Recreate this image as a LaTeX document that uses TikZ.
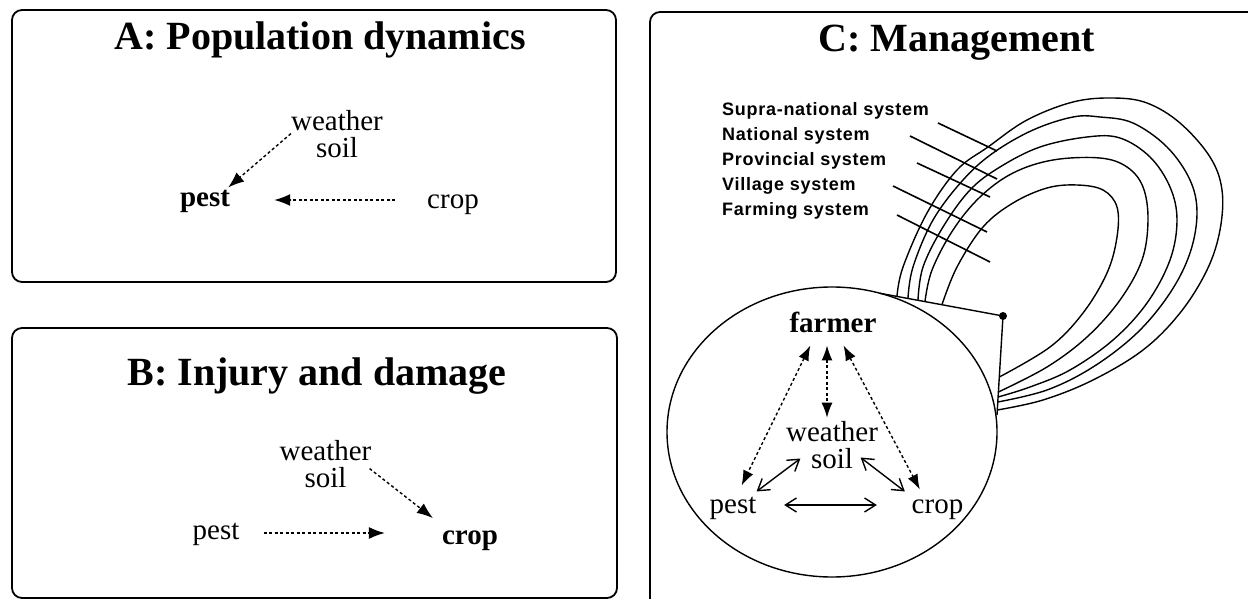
\documentclass[tikz,border=0pt]{standalone}
\usepackage{fontspec}
\setmainfont{Liberation Serif}
\newfontfamily\labfont[LetterSpace=4]{Liberation Sans}
\usetikzlibrary{arrows.meta}
\begin{document}
\begin{tikzpicture}[x=1pt,y=-1pt,
  panel/.style={draw, line width=1.8pt, rounded corners=10pt},
  ttl/.style={font=\fontsize{40}{48}\selectfont\bfseries, inner sep=0pt, anchor=base},
  rtxt/.style={font=\fontsize{29}{27}\selectfont, inner sep=0pt, anchor=base},
  btxt/.style={font=\fontsize{29}{27}\selectfont\bfseries, inner sep=0pt, anchor=base},
  wstxt/.style={font=\fontsize{29}{27}\selectfont, inner sep=0pt, align=center, anchor=center},
  syslab/.style={font=\labfont\bfseries\fontsize{18}{20}\selectfont, inner sep=0pt, anchor=base west},
  da/.style={line width=1.4pt, dash pattern=on 3pt off 2.5pt, -{Latex[length=16pt,width=12pt]}},
  dda/.style={line width=1.4pt, dash pattern=on 3pt off 2.5pt, {Latex[length=15pt,width=11pt]}-{Latex[length=15pt,width=11pt]}},
  sda/.style={line width=1.4pt, {Straight Barb[length=11pt,width=14pt]}-{Straight Barb[length=11pt,width=14pt]}},
  lp/.style={line width=1.4pt},
  lead/.style={line width=1.6pt}]
\useasboundingbox (0,0) rectangle (1248,599);
\clip (0,0) rectangle (1248,599);

% ---------- Panel A ----------
\draw[panel] (12,10) rectangle (616,282);
\node[ttl] (tA) at (320,50) {A: Population dynamics};
\node[wstxt] (wsA) at (337,133.6) {weather\\soil};
\node[btxt] (pestA) at (205,207) {pest};
\node[rtxt] (cropA) at (453,208) {crop};
\draw[da] (wsA.west) -- ([shift={(-2,-3)}]pestA.north east);
\draw[da] ([shift={(-32,-8)}]cropA.base west) -- ([shift={(44,-7)}]pestA.base east);

% ---------- Panel B ----------
\draw[panel] (12,328) rectangle (617,598);
\node[ttl] (tB) at (317,385) {B: Injury and damage};
\node[wstxt] (wsB) at (325.5,463.6) {weather\\soil};
\node[rtxt] (pestB) at (216,539) {pest};
\node[btxt] (cropB) at (470,544) {crop};
\draw[da] ([shift={(-2,5)}]wsB.east) -- ([shift={(-9,-12)}]cropB.north west);
\draw[da] ([shift={(24,-6)}]pestB.base east) -- ([shift={(-57,-11)}]cropB.base west);

% ---------- Panel C ----------
\draw[panel] (1262,12) -- (650,12) -- (650,620);
\node[ttl] (tC) at (957,52) {C: Management};

\node[syslab] (l1) at (722,115.5) {Supra-national system};
\node[syslab] (l2) at (722,140.5) {National system};
\node[syslab] (l3) at (722,165.5) {Provincial system};
\node[syslab] (l4) at (722,190.5) {Village system};
\node[syslab] (l5) at (722,215.5) {Farming system};

% nested system loops
\draw[lp] plot[smooth, tension=0.6] coordinates {(897,296.2) (903,267) (927,213) (957,170) (988,147) (1027,120) (1073,102) (1113,98) (1147,103) (1180,123) (1210,157) (1222,190) (1220,230) (1207,270) (1180,313) (1143,350) (1093,380) (1043,400) (997.3,410)};
\draw[lp] plot[smooth, tension=0.6] coordinates {(908,298.2) (913,267) (933,220) (963,180) (993,153) (1033,130) (1073,117) (1100,117) (1133,123) (1167,147) (1190,180) (1197,213) (1190,253) (1170,293) (1137,333) (1093,367) (1047,390) (997.8,402)};
\draw[lp] plot[smooth, tension=0.6] coordinates {(918,300.1) (923,267) (943,227) (970,190) (1000,167) (1040,147) (1087,137) (1120,138) (1150,157) (1170,187) (1177,220) (1170,260) (1147,303) (1113,340) (1070,370) (1030,387) (998.1,397)};
\draw[lp] plot[smooth, tension=0.6] coordinates {(925,301.4) (932,270) (953,230) (980,197) (1013,173) (1053,160) (1100,158) (1127,167) (1143,187) (1148,220) (1142,260) (1120,300) (1087,337) (1047,367) (998.4,392)};
\draw[lp] plot[smooth, tension=0.6] coordinates {(942,304.6) (957,267) (983,227) (1013,203) (1047,188) (1077,185) (1103,190) (1117,207) (1117,237) (1107,273) (1083,313) (1050,347) (999.3,377)};

% leader lines
\coordinate (s1) at (938,123); \coordinate (e1) at (997,151);
\coordinate (s2) at (910,136); \coordinate (e2) at (997,179);
\coordinate (s3) at (917,163); \coordinate (e3) at (990,197);
\coordinate (s4) at (893,186); \coordinate (e4) at (987,232);
\coordinate (s5) at (897,215); \coordinate (e5) at (990,262);
\draw[lead] (s1) -- (e1);
\draw[lead] (s2) -- (e2);
\draw[lead] (s3) -- (e3);
\draw[lead] (s4) -- (e4);
\draw[lead] (s5) -- (e5);

% farming system circle and flap
\draw[lp] (832,432) ellipse [x radius=165pt, y radius=145pt];
\coordinate (fp) at (880,293.3);
\coordinate (dot) at (1003,316);
\coordinate (fq) at (997,415);
\draw[lp] (fp) -- (dot) -- (fq);
\fill (dot) circle [radius=4pt];

\node[btxt] (farmer) at (833,332) {farmer};
\node[wstxt] (wsC) at (832,444.6) {weather\\soil};
\node[rtxt] (pestC) at (733,513) {pest};
\node[rtxt] (cropC) at (937.5,513) {crop};

\draw[dda] ([shift={(21,13)}]farmer.south west) -- ([shift={(-15,-11)}]pestC.north east);
\draw[dda] ([shift={(-6,13)}]farmer.south) -- ([shift={(-5,-3)}]wsC.north);
\draw[dda] ([shift={(10.5,13)}]farmer.south) -- ([shift={(8.3,-9.7)}]cropC.north west);
\draw[sda] ([shift={(0,-5)}]pestC.north east) -- ([shift={(14.5,-10)}]wsC.south west);
\draw[sda] ([shift={(-17.5,-11)}]wsC.south east) -- ([shift={(-6.7,-7.7)}]cropC.north west);
\draw[sda] ([shift={(27.6,-8)}]pestC.base east) -- ([shift={(-34.7,-8)}]cropC.base west);
\end{tikzpicture}
\end{document}
